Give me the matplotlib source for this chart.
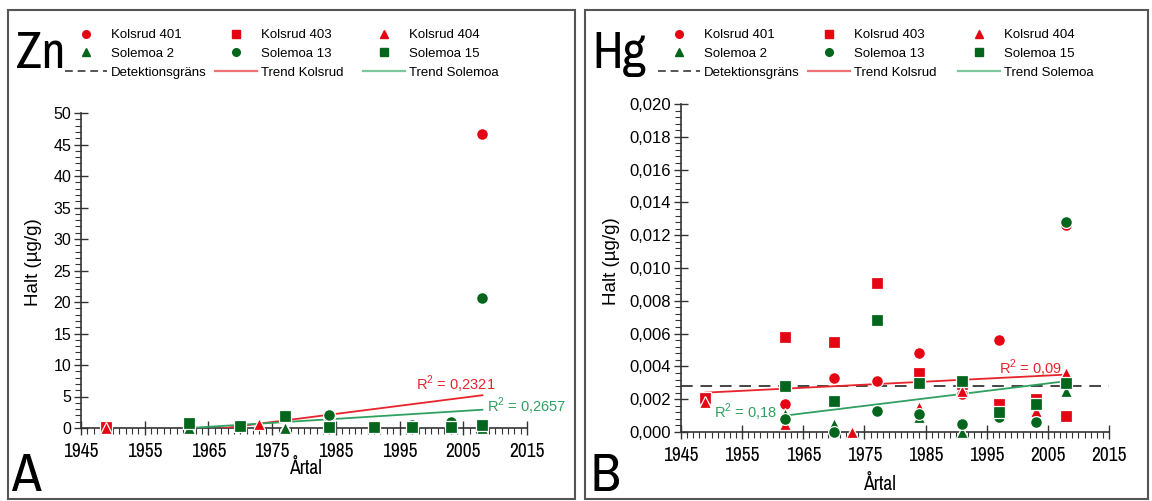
import matplotlib
matplotlib.use('Agg')
import matplotlib.pyplot as plt
from matplotlib.patches import Rectangle
from matplotlib.lines import Line2D
from matplotlib.ticker import MultipleLocator, FuncFormatter
from matplotlib import font_manager
from matplotlib.font_manager import FontProperties

# ---------------- data ----------------
series_names = ["Kolsrud 401", "Kolsrud 403", "Kolsrud 404",
                "Solemoa 2", "Solemoa 13", "Solemoa 15"]

# Zn (µg/g)
zn_k401_x = [1984, 2008]
zn_k401_y = [1.8, 46.7]
zn_k403_x = [1949]
zn_k403_y = [0.1]
zn_k404_x = [1949, 1973, 1977]
zn_k404_y = [0.0, 0.6, 0.2]
zn_s2_x = [1962, 1977, 2008]
zn_s2_y = [0.0, 0.0, 0.0]
zn_s13_x = [1984, 1997, 2003, 2008]
zn_s13_y = [2.0, 0.5, 1.0, 20.7]
zn_s15_x = [1962, 1970, 1977, 1984, 1991, 1997, 2003, 2008]
zn_s15_y = [0.8, 0.3, 1.9, 0.2, 0.1, 0.2, 0.2, 0.4]
zn_trend_k_x = [1949, 2008]
zn_trend_k_y = [-2.4, 5.2]
zn_trend_s_x = [1962, 2008]
zn_trend_s_y = [0.0, 2.9]
zn_r2_k = "R$^2$ = 0,2321"
zn_r2_s = "R$^2$ = 0,2657"

# Hg (µg/g)
hg_k401_x = [1962, 1970, 1977, 1984, 1991, 1997, 2003, 2008]
hg_k401_y = [0.0017, 0.0033, 0.0031, 0.0048, 0.0023, 0.0056, 0.0015, 0.0126]
hg_k403_x = [1949, 1962, 1970, 1977, 1984, 1991, 1997, 2003, 2008]
hg_k403_y = [0.0021, 0.0058, 0.0055, 0.0091, 0.0036, 0.0029, 0.0017, 0.0020, 0.0010]
hg_k404_x = [1949, 1962, 1973, 1984, 1991, 2003, 2008]
hg_k404_y = [0.0018, 0.0005, 0.0000, 0.0015, 0.0025, 0.0013, 0.0036]
hg_s2_x = [1962, 1970, 1984, 1991, 1997, 2008]
hg_s2_y = [0.0011, 0.0005, 0.0009, 0.0000, 0.0010, 0.0025]
hg_s13_x = [1962, 1970, 1977, 1984, 1991, 1997, 2003, 2008]
hg_s13_y = [0.0008, 0.0000, 0.0013, 0.0011, 0.0005, 0.0009, 0.0006, 0.0128]
hg_s15_x = [1962, 1970, 1977, 1984, 1991, 1997, 2003, 2008]
hg_s15_y = [0.0028, 0.0019, 0.0068, 0.0030, 0.0031, 0.0012, 0.0017, 0.0030]
hg_detection = 0.0028
hg_trend_k_x = [1949, 2008]
hg_trend_k_y = [0.0024, 0.0035]
hg_trend_s_x = [1962, 2008]
hg_trend_s_y = [0.0010, 0.0031]
hg_r2_k = "R$^2$ = 0,09"
hg_r2_s = "R$^2$ = 0,18"

x_ticks = [1945, 1955, 1965, 1975, 1985, 1995, 2005, 2015]

# ---------------- fonts ----------------
names = set(f.name for f in font_manager.fontManager.ttflist)
base_font = 'Liberation Sans' if 'Liberation Sans' in names else 'DejaVu Sans'
plt.rcParams['font.family'] = [base_font, 'DejaVu Sans']
plt.rcParams['mathtext.fontset'] = 'custom'
plt.rcParams['mathtext.rm'] = base_font


def find_narrow():
    ents = font_manager.fontManager.ttflist

    def ok(e):
        return e.style == 'normal' and e.weight in (400, 'normal', 'regular')
    for e in ents:
        if e.name == 'Liberation Sans Narrow' and ok(e):
            return e.fname
    for e in ents:
        if ('Narrow' in e.name) and ok(e):
            return e.fname
    for fam in ['Liberation Sans', 'Noto Sans', 'Open Sans', 'Roboto', 'DejaVu Sans']:
        for e in ents:
            st = str(e.stretch)
            if e.name == fam and ok(e) and ('condensed' in st.lower() or st in ('75', '87.5', '62.5')):
                return e.fname
    for e in ents:
        if 'Condensed' in e.name and ok(e):
            return e.fname
    return None


narrow_path = find_narrow()


def nfp(size):
    if narrow_path:
        return FontProperties(fname=narrow_path, size=size)
    return FontProperties(family=base_font, size=size * 0.86)


RED = '#e40613'
GREEN = '#03661c'
TREND_RED = '#e8232b'
TREND_GREEN = '#30a060'
LEG_RED = '#f07272'
LEG_GREEN = '#7cc89c'
AXCOL = '#333333'

W, H = 1152, 501
fig = plt.figure(figsize=(W / 100, H / 100), dpi=100)


def fx(px):
    return px / W


def fy(py):
    return 1 - py / H


# panel frames
for x0, x1 in [(8, 575), (585, 1148)]:
    fig.add_artist(Rectangle((fx(x0), fy(499)), fx(x1 - x0), (499 - 10) / H,
                             transform=fig.transFigure, fill=False,
                             edgecolor='#555555', linewidth=1.5))

ax_zn = fig.add_axes([fx(81), fy(428), fx(527 - 81), (428 - 113) / H])
ax_hg = fig.add_axes([fx(681), fy(432), fx(1109 - 681), (432 - 104) / H])

MS = {'o': 8.5, 's': 8.5, '^': 8.5}


def draw_points(ax, data):
    specs = [('o', RED), ('s', RED), ('^', RED), ('^', GREEN), ('o', GREEN), ('s', GREEN)]
    for (xs, ys), (m, c), name in zip(data, specs, series_names):
        ax.plot(xs, ys, linestyle='none', marker=m, markersize=MS[m],
                markerfacecolor=c, markeredgecolor='white', markeredgewidth=0.9,
                clip_on=False, zorder=5, label=name)


def style_axes(ax, ysize):
    for s in ['top', 'right']:
        ax.spines[s].set_visible(False)
    for s in ['left', 'bottom']:
        ax.spines[s].set_color(AXCOL)
        ax.spines[s].set_linewidth(1.2)
    ax.set_xlim(1945, 2015)
    ax.set_xticks(x_ticks)
    ax.xaxis.set_minor_locator(MultipleLocator(1))
    ax.tick_params(which='major', direction='inout', length=10, width=1.0, color=AXCOL)
    ax.tick_params(which='minor', direction='out', length=4, width=0.8, color=AXCOL)
    ax.tick_params(axis='x', which='major', pad=5)
    ax.tick_params(axis='y', which='major', pad=2)
    for lab in ax.get_xticklabels():
        lab.set_fontproperties(nfp(14))
    for lab in ax.get_yticklabels():
        lab.set_fontsize(ysize)
    ax.set_facecolor('none')


# ---- Zn panel ----
ax = ax_zn
ax.set_ylim(0, 50)
ax.yaxis.set_major_locator(MultipleLocator(5))
ax.yaxis.set_minor_locator(MultipleLocator(1))
ax.plot(zn_trend_k_x, zn_trend_k_y, color=TREND_RED, lw=1.3, zorder=3)
ax.plot(zn_trend_s_x, zn_trend_s_y, color=TREND_GREEN, lw=1.3, zorder=3)
draw_points(ax, [(zn_k401_x, zn_k401_y), (zn_k403_x, zn_k403_y), (zn_k404_x, zn_k404_y),
                 (zn_s2_x, zn_s2_y), (zn_s13_x, zn_s13_y), (zn_s15_x, zn_s15_y)])
style_axes(ax, 11.5)
ax.text(2010, 7.0, zn_r2_k, color=TREND_RED, fontsize=10.5, ha='right', va='center')
ax.text(2008.7, 3.4, zn_r2_s, color=TREND_GREEN, fontsize=10.5, ha='left', va='center')

# ---- Hg panel ----
ax = ax_hg
ax.set_ylim(0, 0.020)
ax.yaxis.set_major_locator(MultipleLocator(0.002))
ax.yaxis.set_minor_locator(MultipleLocator(0.0004))
ax.yaxis.set_major_formatter(FuncFormatter(lambda v, p: f"{v:.3f}".replace('.', ',')))
ax.axhline(hg_detection, color='#444444', lw=1.4, dashes=(6, 4), zorder=2)
ax.plot(hg_trend_k_x, hg_trend_k_y, color=TREND_RED, lw=1.3, zorder=3)
ax.plot(hg_trend_s_x, hg_trend_s_y, color=TREND_GREEN, lw=1.3, zorder=3)
draw_points(ax, [(hg_k401_x, hg_k401_y), (hg_k403_x, hg_k403_y), (hg_k404_x, hg_k404_y),
                 (hg_s2_x, hg_s2_y), (hg_s13_x, hg_s13_y), (hg_s15_x, hg_s15_y)])
style_axes(ax, 12)
ax.text(2007.3, 0.0039, hg_r2_k, color=TREND_RED, fontsize=10.5, ha='right', va='center')
ax.text(1960.7, 0.0012, hg_r2_s, color=TREND_GREEN, fontsize=10.5, ha='right', va='center')

# axis labels
fig.text(fx(34), fy(262), 'Halt (µg/g)', rotation=90, ha='center', va='center', fontsize=13.5)
fig.text(fx(611), fy(261), 'Halt (µg/g)', rotation=90, ha='center', va='center', fontsize=13.5)
fig.text(fx(306), fy(468), 'Årtal', ha='center', va='center', fontproperties=nfp(14))
fig.text(fx(880), fy(484), 'Årtal', ha='center', va='center', fontproperties=nfp(14))

# big labels
fig.text(fx(16), fy(68), 'Zn', ha='left', va='baseline', fontproperties=nfp(37))
fig.text(fx(592), fy(68), 'Hg', ha='left', va='baseline', fontproperties=nfp(37))
fig.text(fx(11), 0.002, 'A', ha='left', va='bottom', fontproperties=nfp(39))
fig.text(fx(591), 0.002, 'B', ha='left', va='bottom', fontproperties=nfp(39))


# legends: one legend per column, positioned at the handle start
def make_handles():
    h = {}
    h['Kolsrud 401'] = Line2D([], [], ls='none', marker='o', ms=5.5, mfc=RED, mec=RED)
    h['Kolsrud 403'] = Line2D([], [], ls='none', marker='s', ms=5.5, mfc=RED, mec=RED)
    h['Kolsrud 404'] = Line2D([], [], ls='none', marker='^', ms=5.5, mfc=RED, mec=RED)
    h['Solemoa 2'] = Line2D([], [], ls='none', marker='^', ms=5.5, mfc=GREEN, mec=GREEN)
    h['Solemoa 13'] = Line2D([], [], ls='none', marker='o', ms=5.5, mfc=GREEN, mec=GREEN)
    h['Solemoa 15'] = Line2D([], [], ls='none', marker='s', ms=5.5, mfc=GREEN, mec=GREEN)
    h['Detektionsgräns'] = Line2D([], [], color='#555555', lw=1.4, dashes=(4, 2.5))
    h['Trend Kolsrud'] = Line2D([], [], color=LEG_RED, lw=1.6)
    h['Trend Solemoa'] = Line2D([], [], color=LEG_GREEN, lw=1.6)
    return h


columns = [['Kolsrud 401', 'Solemoa 2', 'Detektionsgräns'],
           ['Kolsrud 403', 'Solemoa 13', 'Trend Kolsrud'],
           ['Kolsrud 404', 'Solemoa 15', 'Trend Solemoa']]
col_x = [[65, 215, 363], [658, 808, 958]]
LEG_FS = 9.5
for panel_x in col_x:
    for cx, col in zip(panel_x, columns):
        hd = make_handles()
        fig.legend([hd[k] for k in col], col, loc='upper left',
                   bbox_to_anchor=(fx(cx), fy(29)), ncol=1, frameon=False,
                   fontsize=LEG_FS, handlelength=3.2, handletextpad=0.25,
                   labelspacing=0.5, borderpad=0, borderaxespad=0)

fig.savefig('out.png', dpi=100)
